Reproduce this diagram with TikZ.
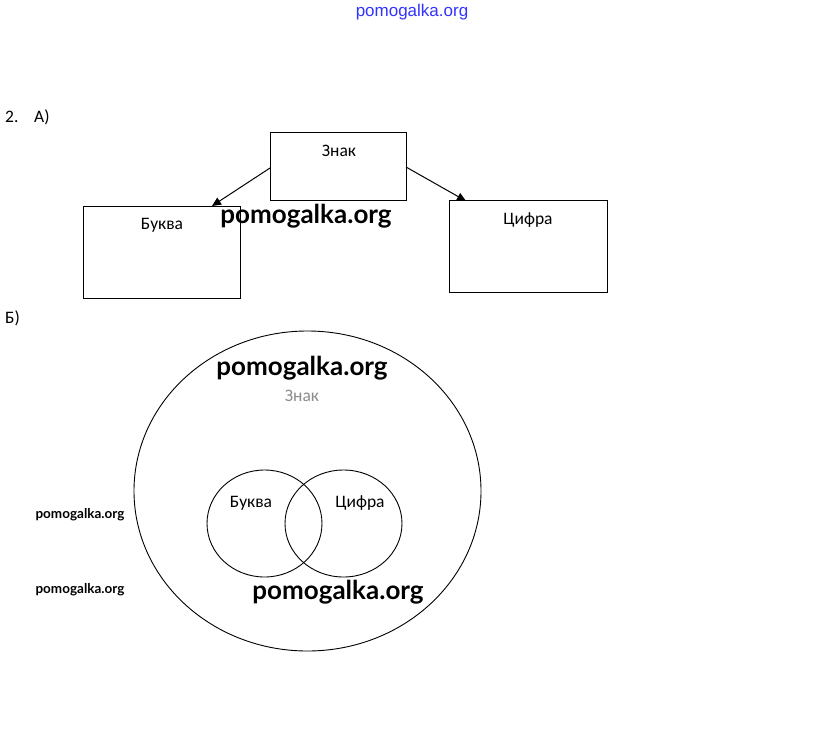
\documentclass[tikz,border=0pt]{standalone}
\usepackage{fontspec}
\setmainfont{Carlito}
\newfontfamily\wmfont{Lato}
\newfontfamily\topfont{Liberation Sans}
\usetikzlibrary{arrows.meta,shapes.geometric}
\begin{document}
\begin{tikzpicture}[x=1pt,y=-1pt,
  lbl/.style={font=\fontsize{17.5}{20}\selectfont, inner sep=0pt},
  conn/.style={-{Triangle[length=9pt,width=8pt]}, line width=1pt},
  wmbig/.style={font=\wmfont\bfseries\fontsize{26}{29}\selectfont, inner sep=0pt},
  wmsmall/.style={font=\wmfont\bfseries\fontsize{13.5}{15}\selectfont, inner sep=0pt},
  ring/.style={draw, line width=0.9pt}]
\useasboundingbox (0,0) rectangle (823,753);
\fill[white] (0,0) rectangle (823,753);
% top header
\node[font=\topfont\fontsize{17}{19}\selectfont, text=blue!80!white, inner sep=0pt] (hdr) at (412,12) {pomogalka.org};
% part A
\node[lbl, anchor=west] (n2) at (5,117) {2.};
\node[lbl, anchor=west] (nA) at (34,117) {А)};
\node[inner sep=0pt, minimum width=136pt, minimum height=68pt, draw, line width=0.9pt] (znak) at (338,166) {};
\node[inner sep=0pt, minimum width=157pt, minimum height=92pt, draw, line width=0.9pt] (bukva) at (161.5,252) {};
\node[inner sep=0pt, minimum width=158pt, minimum height=92pt, draw, line width=0.9pt] (cifra) at (528,246) {};
\node[lbl] (tznak) at (339,151) {Знак};
\node[lbl] (tbukva) at (162,225) {Буква};
\node[lbl] (tcifra) at (528,220) {Цифра};
\coordinate (zl) at (270,168);
\coordinate (zr) at (406,167);
\coordinate (bl) at (212,206);
\coordinate (cr) at (466,201);
\draw[conn] (zl) -- (bl);
\draw[conn] (zr) -- (cr);
% part B
\node[lbl, anchor=west] (nB) at (5,318) {Б)};
\node[ring, ellipse, minimum width=347pt, minimum height=320pt, inner sep=0pt] (outer) at (307.5,491) {};
\node[ring, ellipse, minimum width=115pt, minimum height=107pt, inner sep=0pt] (cb) at (264.5,523.5) {};
\node[ring, ellipse, minimum width=117pt, minimum height=107pt, inner sep=0pt] (cc) at (343.5,523.5) {};
\node[lbl, text=black!45] (tznak2) at (302,396) {Знак};
\node[lbl] (tb2) at (251,503) {Буква};
\node[lbl] (tc2) at (360,503) {Цифра};
% watermarks
\node[wmbig] (w1) at (306,216) {pomogalka.org};
\node[wmbig] (w2) at (302,368) {pomogalka.org};
\node[wmbig] (w3) at (338,592) {pomogalka.org};
\node[wmsmall] (w4) at (80,515) {pomogalka.org};
\node[wmsmall] (w5) at (80,590) {pomogalka.org};
\end{tikzpicture}
\end{document}
